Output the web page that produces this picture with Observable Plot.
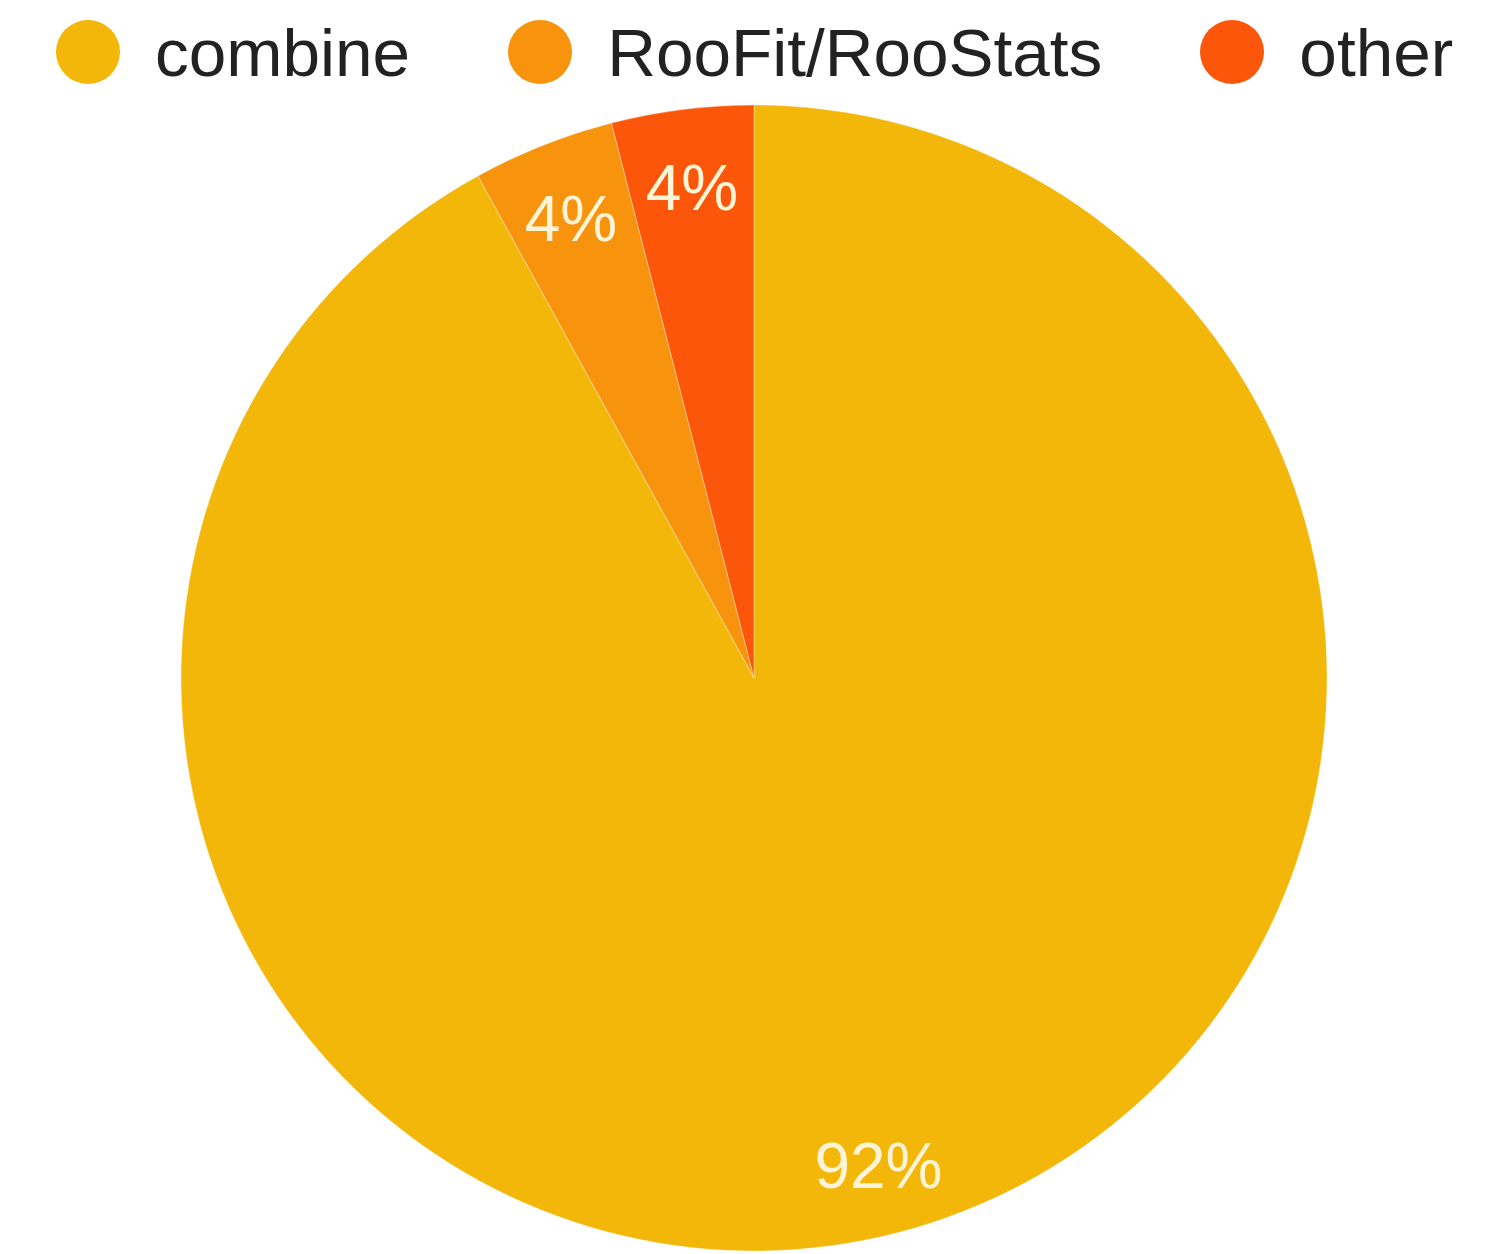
<!DOCTYPE html>
<html>
<head>
<meta charset="utf-8">
<script src="https://cdn.jsdelivr.net/npm/d3@7"></script>
<script src="https://cdn.jsdelivr.net/npm/@observablehq/plot@0.6"></script>
<style>
  body { margin: 0; background: #fff; font-family: "Liberation Sans", Arial, Helvetica, sans-serif; }
  #legend { display: flex; align-items: center; height: 104px; padding-left: 56px; gap: 98px; }
  .item { display: flex; align-items: center; gap: 35px; font-size: 67.5px; color: #222; }
  .sw { width: 64px; height: 64px; border-radius: 50%; flex: none; }
</style>
</head>
<body>
<div id="legend"></div>
<div id="chart"></div>
<script>
// Tools used for statistical analysis
const categories = ["combine", "RooFit/RooStats", "other"];
const shares = [92, 4, 4];
const colors = ["#f3b70a", "#f7930c", "#fb5609"];

const data = categories.map((category, i) => ({ category, share: shares[i] }));
const total = d3.sum(shares);

const color = Plot.scale({ color: { type: "ordinal", domain: categories, range: colors } });

// Legend row
const legend = d3.select("#legend");
categories.forEach((c) => {
  const item = legend.append("div").attr("class", "item");
  item.append("div").attr("class", "sw").style("background", color.apply(c));
  item.append("span").text(c);
});

// Slices start at 12 o'clock and run clockwise
const arcs = d3.pie().sort(null).value((d) => d.share)(data);
const labelRadius = 0.87;
const labelRows = arcs.map((a) => {
  const mid = (a.startAngle + a.endAngle) / 2;
  return {
    x: labelRadius * Math.sin(mid),
    y: labelRadius * Math.cos(mid),
    text: `${Math.round((a.data.share / total) * 100)}%`
  };
});

function pieSlices(index, scales) {
  const cx = scales.x(0), cy = scales.y(0);
  const r = scales.x(1) - scales.x(0);
  const arc = d3.arc().innerRadius(0).outerRadius(r);
  const g = d3.create("svg:g").attr("transform", `translate(${cx},${cy})`);
  g.selectAll("path")
    .data(arcs)
    .join("path")
    .attr("d", arc)
    .attr("fill", (d) => color.apply(d.data.category))
    .attr("stroke", "#ffffff")
    .attr("stroke-opacity", 0.35)
    .attr("stroke-width", 1);
  return g.node();
}

const plot = Plot.plot({
  width: 1511,
  height: 1150,
  marginLeft: 181,
  marginRight: 184,
  marginTop: 1,
  marginBottom: 3,
  x: { domain: [-1, 1], axis: null },
  y: { domain: [-1, 1], axis: null },
  style: { background: "transparent", overflow: "visible" },
  marks: [
    pieSlices,
    Plot.text(labelRows, {
      x: "x",
      y: "y",
      text: "text",
      fill: "#fff4d6",
      fontSize: 64,
      fontFamily: "Liberation Sans, Arial, sans-serif",
      textAnchor: "middle",
      lineAnchor: "middle",
      dy: 6,
      letterSpacing: 3
    })
  ]
});
document.getElementById("chart").append(plot);
</script>
</body>
</html>
